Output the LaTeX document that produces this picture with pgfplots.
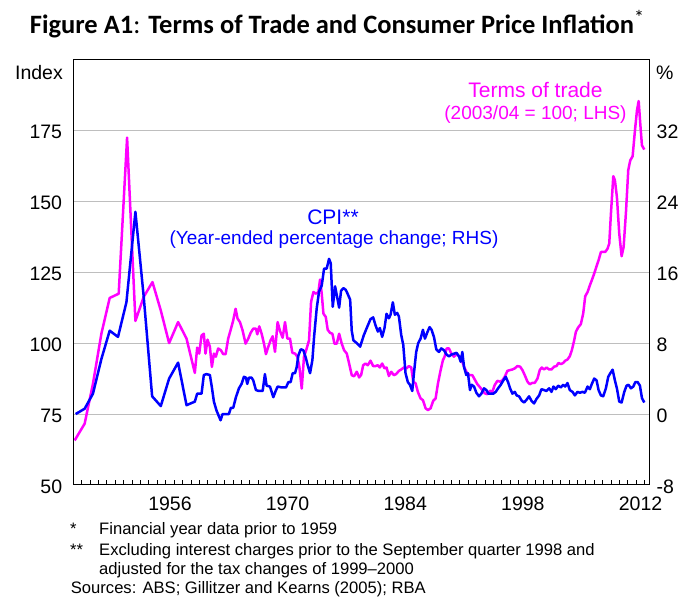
\documentclass[border=0pt]{standalone}
\usepackage{fontspec}
\setmainfont{Liberation Sans}
\newfontfamily\titlefont{Carlito}
\usepackage{pgfplots}
\pgfplotsset{compat=1.18}
\definecolor{tot}{RGB}{255,0,255}
\definecolor{cpi}{RGB}{0,0,255}
\definecolor{gridc}{RGB}{190,190,190}

\pgfplotstableread{
year value
1945.16 65.7
1946.35 71.6
1947.34 85.7
1948.34 103.3
1949.33 115.9
1950.40 117.4
1951.40 172.4
1952.39 107.8
1953.38 116.3
1954.42 121.5
1955.41 111.5
1956.40 100.0
1957.47 107.4
1958.47 101.6
1959.46 89.5
1959.74 98.4
1959.98 96.3
1960.26 102.7
1960.53 103.3
1960.73 96.3
1960.97 101.2
1961.25 98.7
1961.49 91.6
1961.73 96.3
1961.96 95.2
1962.24 98.1
1962.56 97.5
1962.84 96.1
1963.12 96.1
1963.43 101.6
1963.71 104.5
1964.03 108.0
1964.31 112.1
1964.55 108.6
1964.83 107.4
1965.14 104.5
1965.50 99.8
1965.82 101.6
1966.10 103.6
1966.41 105.1
1966.73 105.1
1966.89 103.1
1967.13 105.9
1967.41 103.3
1967.69 99.8
1967.92 96.1
1968.20 98.7
1968.48 101.0
1968.72 102.4
1969.00 96.9
1969.31 107.4
1969.59 104.3
1969.91 101.9
1970.19 107.4
1970.47 101.6
1970.78 101.6
1971.06 96.6
1971.38 96.3
1971.66 95.2
1971.90 91.6
1972.18 84.0
1972.45 95.2
1972.77 98.1
1973.05 101.0
1973.29 114.5
1973.57 118.0
1973.88 117.4
1974.16 118.0
1974.36 122.4
1974.56 117.4
1974.76 110.4
1975.04 109.2
1975.27 104.7
1975.55 103.6
1975.83 103.3
1976.07 99.8
1976.35 99.8
1976.63 103.3
1976.94 99.8
1977.22 97.5
1977.54 96.3
1977.82 92.8
1978.13 88.7
1978.41 88.3
1978.73 89.9
1979.01 87.9
1979.25 88.8
1979.49 92.2
1979.77 92.8
1980.04 92.2
1980.36 93.8
1980.68 91.9
1980.96 91.9
1981.24 92.2
1981.47 91.4
1981.75 92.8
1982.03 91.1
1982.27 91.4
1982.55 88.4
1982.83 89.9
1983.14 88.7
1983.42 89.1
1983.74 90.2
1984.02 90.7
1984.33 91.4
1984.65 91.1
1984.93 91.9
1985.21 91.4
1985.45 86.4
1985.73 85.8
1986.00 82.8
1986.32 80.5
1986.60 79.9
1986.92 77.0
1987.20 76.4
1987.51 77.0
1987.83 79.7
1988.11 80.5
1988.39 85.8
1988.71 90.5
1988.98 94.0
1989.18 95.2
1989.42 98.1
1989.70 98.1
1989.98 96.3
1990.29 95.2
1990.61 96.1
1990.97 95.2
1991.29 93.4
1991.57 91.1
1991.88 89.3
1992.16 88.7
1992.48 88.7
1992.76 87.2
1993.08 85.5
1993.35 84.6
1993.67 83.4
1993.95 82.3
1994.27 82.0
1994.58 83.2
1994.86 82.8
1995.14 85.2
1995.46 86.7
1995.78 86.4
1996.06 86.9
1996.33 88.1
1996.65 90.2
1996.97 90.5
1997.25 90.7
1997.53 91.1
1997.84 91.9
1998.16 91.7
1998.44 90.5
1998.76 88.4
1999.04 86.4
1999.31 85.5
1999.63 86.0
1999.91 86.0
2000.23 87.5
2000.50 90.5
2000.74 91.4
2001.02 90.7
2001.30 91.4
2001.62 90.7
2001.90 90.7
2002.21 91.7
2002.49 91.9
2002.73 93.0
2003.01 92.6
2003.29 93.0
2003.53 93.8
2003.80 94.2
2004.08 95.4
2004.32 97.5
2004.60 101.0
2004.80 104.0
2005.07 105.5
2005.39 106.7
2005.67 110.4
2005.91 116.5
2006.19 118.0
2006.47 120.4
2006.70 122.2
2006.98 124.5
2007.26 127.1
2007.50 129.2
2007.78 132.1
2008.05 132.1
2008.29 132.1
2008.57 133.3
2008.77 135.1
2008.97 145.6
2009.25 158.8
2009.44 157.4
2009.68 151.5
2009.96 138.6
2010.24 130.6
2010.48 133.9
2010.76 146.2
2011.03 160.9
2011.27 164.4
2011.55 165.8
2011.83 175.0
2012.07 182.0
2012.27 185.3
2012.46 177.3
2012.66 169.7
2012.94 168.2
}\tottable

\pgfplotstableread{
year value
1945.28 0.0
1946.35 0.6
1947.34 2.3
1948.34 6.2
1949.33 9.4
1950.32 8.7
1951.32 12.6
1952.39 22.8
1953.38 13.2
1954.38 2.0
1955.41 0.9
1956.40 4.0
1957.47 5.8
1958.47 1.0
1959.46 1.4
1959.74 2.3
1960.26 2.3
1960.53 4.4
1960.85 4.5
1961.25 4.4
1961.49 3.0
1961.73 1.4
1962.04 0.4
1962.52 -0.7
1962.76 0.0
1963.24 0.0
1963.51 0.0
1963.75 0.7
1964.03 0.7
1964.35 1.9
1964.71 2.9
1965.02 3.4
1965.30 4.2
1965.54 4.1
1965.70 3.4
1965.90 4.1
1966.22 4.1
1966.41 3.8
1966.73 2.7
1967.09 2.6
1967.53 2.6
1967.80 4.5
1968.00 3.2
1968.40 3.1
1968.80 1.9
1969.08 2.6
1969.31 3.1
1969.79 3.0
1970.31 3.0
1970.59 3.6
1970.86 3.6
1971.10 4.6
1971.38 4.6
1971.58 5.3
1971.78 6.6
1972.06 7.3
1972.37 7.2
1972.65 6.4
1972.89 5.5
1973.17 4.6
1973.45 6.1
1973.65 8.7
1973.96 11.9
1974.24 13.8
1974.56 14.5
1974.84 16.4
1975.15 16.4
1975.43 17.5
1975.63 17.0
1975.87 12.1
1976.15 14.4
1976.35 13.4
1976.63 12.0
1976.86 13.9
1977.14 14.2
1977.42 14.0
1977.62 13.6
1977.94 12.9
1978.13 9.4
1978.33 8.3
1978.73 8.0
1979.13 7.6
1979.57 8.9
1979.96 9.8
1980.36 10.7
1980.68 10.9
1980.96 10.0
1981.24 9.3
1981.47 9.7
1981.75 8.7
1982.03 9.7
1982.27 11.3
1982.55 10.8
1982.75 11.2
1983.02 12.6
1983.26 11.2
1983.54 11.4
1983.74 11.0
1984.02 8.9
1984.26 7.8
1984.53 4.6
1984.81 3.6
1985.05 3.3
1985.33 2.6
1985.53 4.6
1985.80 7.0
1986.04 8.0
1986.32 8.5
1986.60 9.5
1986.84 8.5
1987.12 9.2
1987.39 9.8
1987.63 9.5
1987.91 8.7
1988.19 7.3
1988.51 7.0
1988.78 7.4
1989.10 7.2
1989.42 6.7
1989.70 6.5
1989.98 6.7
1990.29 6.8
1990.61 6.9
1990.89 6.5
1991.09 5.9
1991.29 7.0
1991.49 5.3
1991.76 4.4
1991.96 4.6
1992.20 2.7
1992.40 3.3
1992.68 3.1
1992.96 2.4
1993.27 2.0
1993.55 2.3
1993.87 2.9
1994.15 2.7
1994.39 2.3
1994.66 2.3
1994.98 2.3
1995.26 2.5
1995.54 2.9
1995.86 3.3
1996.17 3.8
1996.45 4.2
1996.73 3.6
1996.97 2.9
1997.25 2.3
1997.53 2.5
1997.76 2.1
1998.04 2.0
1998.36 1.5
1998.64 1.3
1998.92 1.6
1999.23 2.0
1999.51 1.5
1999.83 1.2
2000.11 1.7
2000.43 2.1
2000.70 2.8
2001.02 2.7
2001.30 2.6
2001.62 2.9
2001.90 2.5
2002.13 3.1
2002.41 2.8
2002.69 3.2
2003.01 3.0
2003.29 3.3
2003.53 3.1
2003.80 3.5
2004.08 2.7
2004.40 2.5
2004.68 2.1
2004.99 2.5
2005.27 2.4
2005.59 2.5
2005.87 2.4
2006.19 3.1
2006.46 2.8
2006.70 3.4
2006.98 4.0
2007.26 3.8
2007.50 2.7
2007.78 2.1
2008.05 2.0
2008.37 2.9
2008.65 4.2
2008.89 4.6
2009.17 5.0
2009.44 3.8
2009.68 2.9
2009.96 1.4
2010.24 1.3
2010.56 2.5
2010.83 3.2
2011.07 3.3
2011.35 2.9
2011.63 3.1
2011.87 3.6
2012.15 3.6
2012.42 3.2
2012.66 1.8
2012.94 1.3
}\cpitable

\begin{document}
\begin{tikzpicture}[x=1pt,y=1pt]
\path[use as bounding box] (0,0) rectangle (680,601);
\begin{axis}[
  at={(73.3pt,116pt)}, anchor=south west,
  width=575.7pt, height=425.7pt, scale only axis,
  xmin=1945, xmax=2013.5, ymin=50, ymax=200,
  scaled x ticks=false,
  xtick={1946,1947,...,2013},
  xticklabel={\pgfmathtruncatemacro\yr{round(\tick)}\pgfmathtruncatemacro\md{mod(\yr-1956,14)}\ifnum\md=0 \yr\fi},
  tick pos=left,
  tick align=inside,
  major tick length=5pt,
  every tick/.style={draw=black, line width=0.9pt},
  ytick style={draw=none},
  ytick={50,75,100,125,150,175},
  yticklabels={50,75,100,125,150,175},
  ymajorgrids, grid style={gridc, line width=1pt},
  axis line style={black, line width=1pt},
  xticklabel style={font=\fontsize{19.5pt}{22pt}\selectfont, anchor=north, inner sep=0pt, xshift=4.2pt, yshift=-11.5pt},
  yticklabel style={font=\fontsize{19.5pt}{22pt}\selectfont, anchor=east, inner sep=0pt, xshift=-11pt, yshift=-1.5pt},
]
\addplot[tot, line width=2.5pt, line join=round] table[x=year, y=value] {\tottable};
\end{axis}
\begin{axis}[
  at={(73.3pt,116pt)}, anchor=south west,
  width=575.7pt, height=425.7pt, scale only axis,
  xmin=1945, xmax=2013.5, ymin=-8, ymax=40,
  hide x axis,
  ytick pos=right,
  major tick length=0pt,
  ytick style={draw=none},
  ytick={-8,0,8,16,24,32},
  yticklabels={-8,0,8,16,24,32},
  axis line style={black, line width=1pt},
  yticklabel style={font=\fontsize{19.5pt}{22pt}\selectfont, anchor=west, inner sep=0pt, xshift=7.5pt, yshift=-1.5pt},
]
\addplot[cpi, line width=2.5pt, line join=round] table[x=year, y=value] {\cpitable};
\end{axis}

\node[anchor=base, inner sep=0pt, text=tot, font=\fontsize{21pt}{24pt}\selectfont] at (535.5,503) {Terms of trade};
\node[anchor=base, inner sep=0pt, text=tot, font=\fontsize{19pt}{22pt}\selectfont] at (535.5,481.5) {(2003/04 = 100; LHS)};
\node[anchor=base, inner sep=0pt, text=cpi, font=\fontsize{21pt}{24pt}\selectfont] at (333,376) {CPI**};
\node[anchor=base, inner sep=0pt, text=cpi, font=\fontsize{19pt}{22pt}\selectfont] at (334,356.5) {(Year-ended percentage change; RHS)};
\node[anchor=base east, inner sep=0pt, font=\fontsize{19.5pt}{22pt}\selectfont] at (63,521) {Index};
\node[anchor=base west, inner sep=0pt, font=\fontsize{19.5pt}{22pt}\selectfont] at (656,521) {\%};

\node[anchor=base, inner sep=0pt, font=\titlefont\fontsize{26.5pt}{30pt}\selectfont] at (337,567)
  {\textbf{Figure A1}: \textbf{Terms of Trade and Consumer Price Inflation}\raisebox{9pt}{\fontsize{20pt}{20pt}\selectfont *}};

\begin{scope}[every node/.style={anchor=base west, inner sep=0pt, font=\fontsize{16.6pt}{19pt}\selectfont}]
\node at (70,66) {*};
\node at (99,66) {Financial year data prior to 1959};
\node at (70,45.5) {**};
\node at (99,45.5) {Excluding interest charges prior to the September quarter 1998 and};
\node at (99,26) {adjusted for the tax changes of 1999--2000};
\node at (70.7,7) {Sources: ABS; Gillitzer and Kearns (2005); RBA};
\end{scope}
\end{tikzpicture}
\end{document}
